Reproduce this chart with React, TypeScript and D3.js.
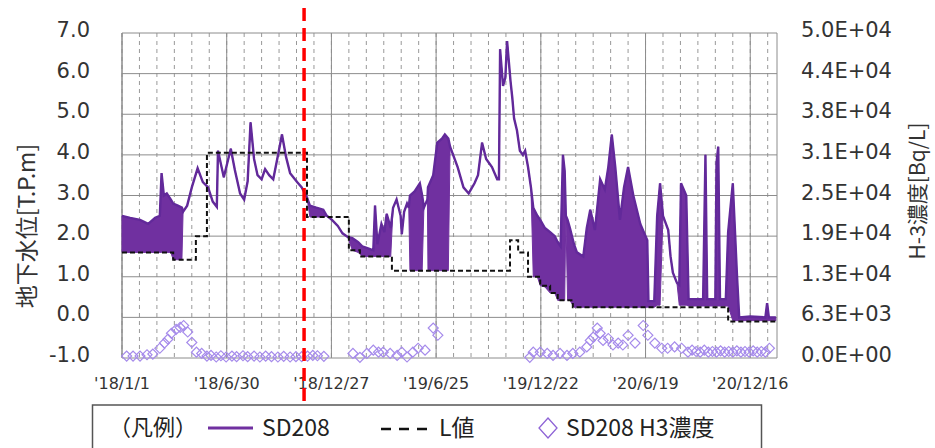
import React from "react";
import * as d3 from "d3";

type Env = [string, number, number];
type Pt = [string, number];

// SD208 water level, read as an envelope: [date, upper, lower] (T.P.m)
const sd208Envelope: Env[] = [
  ["2018-01-01", 2.5, 1.6], ["2018-01-15", 2.45, 1.6], ["2018-02-01", 2.4, 1.6],
  ["2018-02-15", 2.3, 1.6], ["2018-02-27", 2.45, 1.6], ["2018-03-07", 2.5, 1.6],
  ["2018-03-10", 3.55, 1.6], ["2018-03-14", 3.0, 1.6], ["2018-03-19", 3.05, 1.6],
  ["2018-03-26", 2.9, 1.6], ["2018-03-30", 2.8, 1.42], ["2018-04-07", 2.75, 1.42],
  ["2018-04-14", 2.7, 1.42], ["2018-04-16", 2.6, 2.6], ["2018-04-23", 2.75, 2.75],
  ["2018-05-01", 3.2, 3.2], ["2018-05-11", 3.67, 3.67], ["2018-05-20", 3.33, 3.33],
  ["2018-05-29", 3.2, 3.2], ["2018-06-06", 2.85, 2.85], ["2018-06-13", 2.72, 2.72],
  ["2018-06-15", 4.1, 4.1], ["2018-06-25", 3.45, 3.45], ["2018-07-07", 4.15, 4.15],
  ["2018-07-14", 3.63, 3.63], ["2018-07-23", 3.05, 3.05], ["2018-07-30", 2.9, 2.9],
  ["2018-08-05", 3.35, 3.35], ["2018-08-10", 4.8, 4.8], ["2018-08-16", 3.9, 3.9],
  ["2018-08-22", 3.5, 3.5], ["2018-08-29", 3.4, 3.4], ["2018-09-04", 3.65, 3.65],
  ["2018-09-11", 3.5, 3.5], ["2018-09-18", 3.4, 3.4], ["2018-09-27", 4.05, 4.05],
  ["2018-10-03", 4.5, 4.5], ["2018-10-10", 3.95, 3.95], ["2018-10-17", 3.55, 3.55],
  ["2018-10-29", 3.33, 3.33], ["2018-11-06", 3.2, 3.2], ["2018-11-15", 2.95, 2.95],
  ["2018-11-20", 2.75, 2.47], ["2018-12-01", 2.7, 2.47], ["2018-12-13", 2.65, 2.47],
  ["2018-12-19", 2.5, 2.5], ["2018-12-28", 2.4, 2.4], ["2019-01-07", 2.25, 2.25],
  ["2019-01-15", 2.07, 2.07], ["2019-01-24", 1.98, 1.98], ["2019-02-01", 1.95, 1.65],
  ["2019-02-11", 1.85, 1.6], ["2019-02-18", 1.75, 1.5], ["2019-02-28", 1.7, 1.5],
  ["2019-03-09", 1.65, 1.5], ["2019-03-12", 2.75, 1.5], ["2019-03-16", 1.8, 1.5],
  ["2019-03-23", 2.3, 1.5], ["2019-03-28", 2.1, 1.5], ["2019-04-01", 2.55, 1.5],
  ["2019-04-08", 2.2, 1.5], ["2019-04-12", 2.7, 2.7], ["2019-04-18", 2.9, 2.9],
  ["2019-04-25", 2.5, 2.5], ["2019-04-27", 2.05, 2.05], ["2019-05-01", 2.6, 2.6],
  ["2019-05-06", 2.8, 2.8], ["2019-05-09", 2.7, 2.7], ["2019-05-11", 3.0, 1.15],
  ["2019-05-19", 3.1, 1.15], ["2019-05-28", 3.3, 1.15], ["2019-06-01", 3.0, 1.15],
  ["2019-06-04", 2.7, 2.7], ["2019-06-10", 2.9, 2.9], ["2019-06-11", 3.2, 1.15],
  ["2019-06-20", 3.5, 1.15], ["2019-06-27", 4.3, 1.15], ["2019-07-05", 4.4, 1.15],
  ["2019-07-10", 4.5, 1.15], ["2019-07-16", 4.4, 1.15], ["2019-07-19", 4.2, 4.2],
  ["2019-08-01", 3.7, 3.7], ["2019-08-11", 3.2, 3.2], ["2019-08-20", 3.05, 3.05],
  ["2019-08-30", 3.3, 3.3], ["2019-09-05", 3.5, 3.5], ["2019-09-12", 4.3, 4.3],
  ["2019-09-19", 3.9, 3.9], ["2019-09-29", 3.7, 3.7], ["2019-10-08", 3.4, 3.4],
  ["2019-10-11", 3.4, 3.4], ["2019-10-13", 6.6, 6.6], ["2019-10-18", 5.7, 5.7],
  ["2019-10-22", 5.9, 5.9], ["2019-10-25", 6.8, 6.8], ["2019-10-31", 5.8, 5.8],
  ["2019-11-03", 5.4, 5.4], ["2019-11-06", 4.9, 4.9], ["2019-11-11", 4.6, 4.6],
  ["2019-11-16", 4.1, 4.1], ["2019-11-21", 4.0, 4.0], ["2019-11-25", 4.1, 4.1],
  ["2019-11-30", 3.7, 3.7], ["2019-12-05", 3.2, 3.2], ["2019-12-09", 2.7, 1.0],
  ["2019-12-16", 2.5, 1.0], ["2019-12-21", 2.4, 0.78], ["2019-12-29", 2.2, 0.75],
  ["2020-01-07", 2.1, 0.6], ["2020-01-15", 2.0, 0.6], ["2020-01-20", 1.85, 0.42],
  ["2020-01-25", 1.75, 0.42], ["2020-01-29", 4.0, 0.42], ["2020-02-01", 3.6, 0.42],
  ["2020-02-03", 2.5, 2.5], ["2020-02-06", 2.4, 0.42], ["2020-02-10", 2.2, 0.42],
  ["2020-02-17", 1.8, 0.25], ["2020-02-22", 1.6, 0.25], ["2020-03-04", 1.5, 0.25],
  ["2020-03-10", 2.2, 0.25], ["2020-03-16", 2.65, 0.25], ["2020-03-24", 2.15, 0.25],
  ["2020-04-02", 3.4, 0.25], ["2020-04-10", 3.15, 0.25], ["2020-04-16", 3.7, 0.25],
  ["2020-04-22", 4.5, 0.25], ["2020-04-28", 3.7, 0.25], ["2020-05-06", 2.4, 0.25],
  ["2020-05-13", 3.2, 0.25], ["2020-05-20", 3.7, 0.25], ["2020-05-29", 3.0, 0.25],
  ["2020-06-10", 2.3, 0.25], ["2020-06-22", 1.9, 0.25], ["2020-06-24", 0.4, 0.25],
  ["2020-07-04", 0.4, 0.25], ["2020-07-09", 2.5, 0.3], ["2020-07-14", 3.3, 0.3],
  ["2020-07-19", 2.5, 2.5], ["2020-07-28", 2.15, 2.15], ["2020-08-01", 1.5, 1.5],
  ["2020-08-05", 1.1, 1.1], ["2020-08-12", 0.85, 0.85], ["2020-08-16", 0.8, 0.3],
  ["2020-08-19", 3.3, 0.3], ["2020-08-28", 3.0, 0.3], ["2020-09-01", 0.45, 0.28],
  ["2020-09-26", 0.45, 0.28], ["2020-09-30", 4.0, 0.28], ["2020-10-03", 0.45, 0.28],
  ["2020-10-17", 0.45, 0.28], ["2020-10-19", 3.8, 0.28], ["2020-10-22", 4.2, 0.28],
  ["2020-10-25", 0.45, 0.28], ["2020-11-04", 0.45, 0.28], ["2020-11-08", 2.1, 0.28],
  ["2020-11-16", 3.3, -0.08], ["2020-11-23", 1.1, -0.08], ["2020-11-27", 0.0, -0.08],
  ["2020-12-16", 0.02, -0.08], ["2021-01-11", 0.0, -0.08], ["2021-01-14", 0.35, -0.08],
  ["2021-01-17", 0.0, -0.08], ["2021-01-29", 0.0, -0.08],
];

// L値 (step changes)
const lValue: Pt[] = [
  ["2018-01-01", 1.6], ["2018-03-30", 1.42], ["2018-05-08", 2.0], ["2018-05-27", 4.05],
  ["2018-11-15", 2.47], ["2019-01-26", 1.65], ["2019-02-14", 1.5], ["2019-04-10", 1.15],
  ["2019-10-30", 1.9], ["2019-11-13", 1.6], ["2019-11-30", 1.0], ["2019-12-21", 0.78],
  ["2020-01-07", 0.6], ["2020-01-20", 0.42], ["2020-02-15", 0.25], ["2020-11-08", -0.1],
  ["2021-01-31", -0.1],
];

// SD208 H3 concentration (Bq/L)
const h3Conc: Pt[] = [
  ["2018-01-09", 300], ["2018-01-20", 300], ["2018-02-01", 300], ["2018-02-13", 500],
  ["2018-02-23", 600], ["2018-03-07", 1500], ["2018-03-15", 2300], ["2018-03-21", 2900],
  ["2018-03-27", 3800], ["2018-04-04", 4400], ["2018-04-11", 4700], ["2018-04-17", 5000],
  ["2018-04-24", 4000], ["2018-05-01", 2400], ["2018-05-09", 900], ["2018-05-18", 700],
  ["2018-05-27", 300], ["2018-06-03", 400], ["2018-06-12", 150], ["2018-06-20", 350],
  ["2018-06-29", 150], ["2018-07-09", 300], ["2018-07-17", 200], ["2018-07-28", 350],
  ["2018-08-05", 200], ["2018-08-16", 300], ["2018-08-26", 150], ["2018-09-05", 300],
  ["2018-09-15", 200], ["2018-09-26", 150], ["2018-10-06", 250], ["2018-10-17", 150],
  ["2018-10-27", 200], ["2018-11-06", 200], ["2018-11-16", 300], ["2018-11-25", 400],
  ["2018-12-03", 350], ["2018-12-14", 250],
  ["2019-02-02", 700], ["2019-02-14", 100], ["2019-02-26", 700], ["2019-03-09", 1200],
  ["2019-03-18", 900], ["2019-03-26", 900], ["2019-04-07", 700], ["2019-04-19", 400],
  ["2019-04-27", 900], ["2019-05-06", 150], ["2019-05-16", 900], ["2019-05-25", 1500],
  ["2019-06-06", 1200], ["2019-06-20", 4600], ["2019-06-28", 3500],
  ["2019-12-03", 100], ["2019-12-09", 900], ["2019-12-21", 900], ["2020-01-02", 700],
  ["2020-01-12", 400], ["2020-01-24", 700], ["2020-02-05", 400], ["2020-02-15", 700],
  ["2020-02-27", 900], ["2020-03-10", 1700], ["2020-03-16", 2700], ["2020-03-21", 3200],
  ["2020-03-28", 4600], ["2020-04-02", 3800], ["2020-04-07", 2700], ["2020-04-16", 3000],
  ["2020-04-24", 2000], ["2020-05-03", 2300], ["2020-05-11", 2000], ["2020-05-20", 3500],
  ["2020-06-01", 2300], ["2020-06-15", 5000], ["2020-06-23", 3500], ["2020-07-05", 2300],
  ["2020-07-17", 1500], ["2020-07-27", 1500], ["2020-08-08", 1700], ["2020-08-20", 1500],
  ["2020-08-31", 900], ["2020-09-07", 1200], ["2020-09-14", 1000], ["2020-09-21", 900],
  ["2020-09-28", 1200], ["2020-10-05", 900], ["2020-10-12", 1000], ["2020-10-19", 900],
  ["2020-10-26", 1100], ["2020-11-02", 900], ["2020-11-09", 1000], ["2020-11-16", 900],
  ["2020-11-23", 1100], ["2020-11-30", 900], ["2020-12-07", 1000], ["2020-12-14", 900],
  ["2020-12-21", 1100], ["2020-12-28", 900], ["2021-01-04", 1000], ["2021-01-11", 900],
  ["2021-01-18", 1500],
];

const leftTicks = [-1, 0, 1, 2, 3, 4, 5, 6, 7];
const rightTicks = [0, 6250, 12500, 18750, 25000, 31250, 37500, 43750, 50000];
const rightTickLabels = ["0.0E+00", "6.3E+03", "1.3E+04", "1.9E+04", "2.5E+04", "3.1E+04", "3.8E+04", "4.4E+04", "5.0E+04"];
const xTickDates = ["2018-01-01", "2018-06-30", "2018-12-27", "2019-06-25", "2019-12-22", "2020-06-19", "2020-12-16"];
const xTickLabels = ["'18/1/1", "'18/6/30", "'18/12/27", "'19/6/25", "'19/12/22", "'20/6/19", "'20/12/16"];
const xDomain = ["2018-01-01", "2021-01-31"];
const markerDate = "2018-11-10";

const PURPLE = "#7030A0";
const DIAMOND = "#A68BEB";
const JP = "'Noto Sans CJK JP', 'Noto Sans', sans-serif";
const NUM = "'DejaVu Sans', sans-serif";

const parse = d3.timeParse("%Y-%m-%d");
const dt = (s: string) => parse(s) as Date;

export default function App() {
  const x = d3.scaleTime().domain(xDomain.map(dt)).range([122, 777]);
  const yL = d3.scaleLinear().domain([-1, 7]).range([358, 33]);
  const yR = d3.scaleLinear().domain([0, 50000]).range([358, 33]);

  const minor = d3.timeDay.range(dt(xDomain[0]), dt(xDomain[1]), 30);

  const envArea = d3.area<Env>()
    .x(d => x(dt(d[0])))
    .y0(d => yL(d[2]))
    .y1(d => yL(d[1]));
  const envTop = d3.line<Env>().x(d => x(dt(d[0]))).y(d => yL(d[1]));
  const lLine = d3.line<Pt>().x(d => x(dt(d[0]))).y(d => yL(d[1])).curve(d3.curveStepAfter);
  const diamond = d3.symbol(d3.symbolSquare, 50)();

  const [x0, x1] = x.range();
  const mx = x(dt(markerDate));

  return (
    <svg width={935} height={448} style={{ position: "absolute", left: 0, top: 0, background: "#fff" }}>
      {/* minor vertical grid, every 30 days */}
      {minor.map((d, i) => (
        <line key={"m" + i} x1={x(d)} x2={x(d)} y1={yL(7)} y2={yL(-1)} stroke="#999" strokeDasharray="4,4" />
      ))}
      {/* major vertical grid */}
      {xTickDates.map((d, i) => (
        <line key={"v" + i} x1={x(dt(d))} x2={x(dt(d))} y1={yL(7)} y2={yL(-1)} stroke="#8c8c8c" />
      ))}
      {/* horizontal grid */}
      {leftTicks.map(t => (
        <line key={"h" + t} x1={x0} x2={x1} y1={yL(t)} y2={yL(t)} stroke="#8c8c8c" />
      ))}
      <line x1={x0} x2={x0} y1={yL(7)} y2={yL(-1)} stroke="#8c8c8c" />
      <line x1={x1} x2={x1} y1={yL(7)} y2={yL(-1)} stroke="#8c8c8c" />

      {/* SD208 */}
      <path d={envArea(sd208Envelope) || ""} fill={PURPLE} stroke={PURPLE} strokeWidth={1} />
      <path d={envTop(sd208Envelope) || ""} fill="none" stroke="#62299A" strokeWidth={2.4} />

      {/* L値 */}
      <path d={lLine(lValue) || ""} fill="none" stroke="#111" strokeWidth={2} strokeDasharray="5,3" />

      {/* H3 */}
      {h3Conc.map((d, i) => (
        <path key={"d" + i} d={diamond || ""} transform={`translate(${x(dt(d[0]))},${yR(d[1])}) rotate(45)`}
          fill="none" stroke={DIAMOND} strokeWidth={1.2} />
      ))}

      {/* left axis labels */}
      {leftTicks.map(t => (
        <text key={"l" + t} x={90} y={yL(t) + 4} textAnchor="end" fontFamily={NUM} fontSize={21} fill="#333">
          {t.toFixed(1)}
        </text>
      ))}
      {/* right axis labels */}
      {rightTicks.map((t, i) => (
        <text key={"r" + t} x={801} y={yR(t) + 4} fontFamily={NUM} fontSize={21} fill="#333">
          {rightTickLabels[i]}
        </text>
      ))}
      {/* x labels */}
      {xTickDates.map((d, i) => (
        <text key={"x" + i} x={x(dt(d))} y={389} textAnchor="middle" fontFamily={NUM} fontSize={16} fill="#333">
          {xTickLabels[i]}
        </text>
      ))}

      {/* axis titles */}
      <text transform="translate(35,226) rotate(-90)" textAnchor="middle" fontFamily={JP} fontSize={23} fill="#333">
        地下水位[T.P.m]
      </text>
      <text transform="translate(925,191) rotate(-90)" textAnchor="middle" fontFamily={JP} fontSize={21} fill="#333">
        H-3濃度[Bq/L]
      </text>

      {/* red marker */}
      <line x1={mx} x2={mx} y1={8} y2={404} stroke="#FF0000" strokeWidth={3.5} strokeDasharray="13,7" />

      {/* legend */}
      <rect x={92.5} y={405} width={669} height={60} fill="#fff" stroke="#555" strokeWidth={1.5} />
      <text x={109} y={435} fontFamily={JP} fontSize={22} fill="#222">（凡例）</text>
      <line x1={208} x2={253} y1={428} y2={428} stroke={PURPLE} strokeWidth={3} />
      <text x={262} y={436} fontFamily={JP} fontSize={23} fill="#222">SD208</text>
      <line x1={381} x2={427} y1={429} y2={429} stroke="#111" strokeWidth={2.5} strokeDasharray="10,8" />
      <text x={439} y={436} fontFamily={JP} fontSize={23} fill="#222">L値</text>
      <path d="M548,418 L557,428 L548,438 L539,428 Z" fill="none" stroke="#8E63D6" strokeWidth={1.3} />
      <text x={566} y={436} fontFamily={JP} fontSize={23} fill="#222">SD208 H3濃度</text>
    </svg>
  );
}
